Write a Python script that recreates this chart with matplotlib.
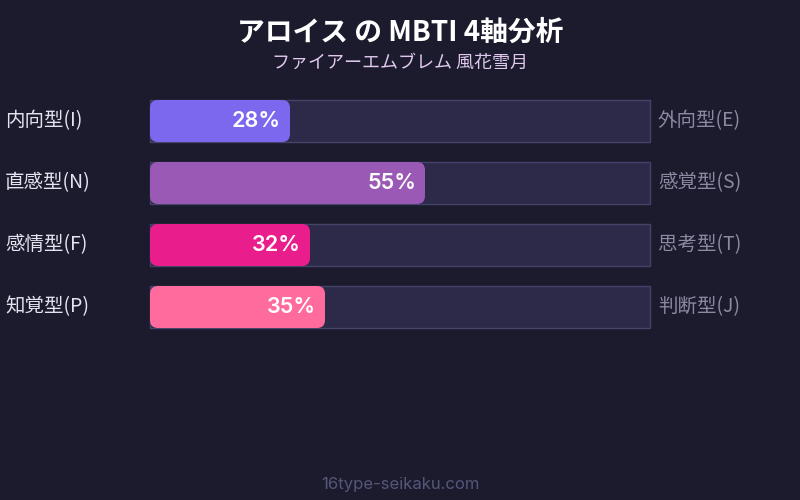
import matplotlib
matplotlib.use("Agg")
import matplotlib.pyplot as plt
from matplotlib.patches import FancyBboxPatch, Rectangle

plt.rcParams['font.family'] = ['Noto Sans CJK JP', 'DejaVu Sans']

title = "アロイス の MBTI 4軸分析"
subtitle = "ファイアーエムブレム 風花雪月"
left_labels = ["内向型(I)", "直感型(N)", "感情型(F)", "知覚型(P)"]
right_labels = ["外向型(E)", "感覚型(S)", "思考型(T)", "判断型(J)"]
values = [28, 55, 32, 35]
colors = ["#7b68ee", "#9b59b6", "#e91e8c", "#ff6b9d"]
footer = "16type-seikaku.com"

W, H = 800, 500
fig = plt.figure(figsize=(8, 5), dpi=100)
bg = "#1b1b2d"
fig.patch.set_facecolor(bg)

# axes placed on the track area: x 150..650 px, y 100..328 px
ax = fig.add_axes([150 / W, 1 - 328 / H, 500 / W, 228 / H])
ax.set_facecolor(bg)
ax.set_xlim(0, 100)
bh = 42 / 62
ax.set_ylim(len(values) - 1 + bh / 2, -bh / 2)
ax.axis('off')

x_per_px = 100 / 500
y_per_px = 1 / 62
aspect = y_per_px / x_per_px
rad = 8 * x_per_px

for i, (v, c) in enumerate(zip(values, colors)):
    ax.add_patch(Rectangle((0, i - bh / 2), 100, bh, facecolor="#2c2a48",
                           edgecolor="#44436a", lw=1, clip_on=False))
    ax.add_patch(FancyBboxPatch((0, i - bh / 2), v, bh,
                                boxstyle=f"round,pad=0,rounding_size={rad}",
                                mutation_aspect=aspect, facecolor=c,
                                edgecolor="none", clip_on=False))
    ax.text(v - 9 * x_per_px, i, f"{v}%", ha='right', va='center',
            color='white', fontsize=15.5, fontweight='semibold',
            family=['Inter', 'DejaVu Sans'])
    ax.text(-145 * x_per_px, i, left_labels[i], ha='left', va='center',
            color='#e4e4f0', fontsize=14, clip_on=False)
    ax.text(100 + 8 * x_per_px, i, right_labels[i], ha='left', va='center',
            color='#8a8aa2', fontsize=14, clip_on=False)

fig.text(0.5, 1 - 33 / H, title, ha='center', va='center', color='white',
         fontsize=20, fontweight='bold')
fig.text(0.5, 1 - 63 / H, subtitle, ha='center', va='center', color='#e0c8ee',
         fontsize=13)
fig.text(0.5, 1 - 484 / H, footer, ha='center', va='center', color='#56567a',
         fontsize=12, family=['Inter', 'DejaVu Sans'])

fig.savefig("out.png", dpi=100, facecolor=bg)
